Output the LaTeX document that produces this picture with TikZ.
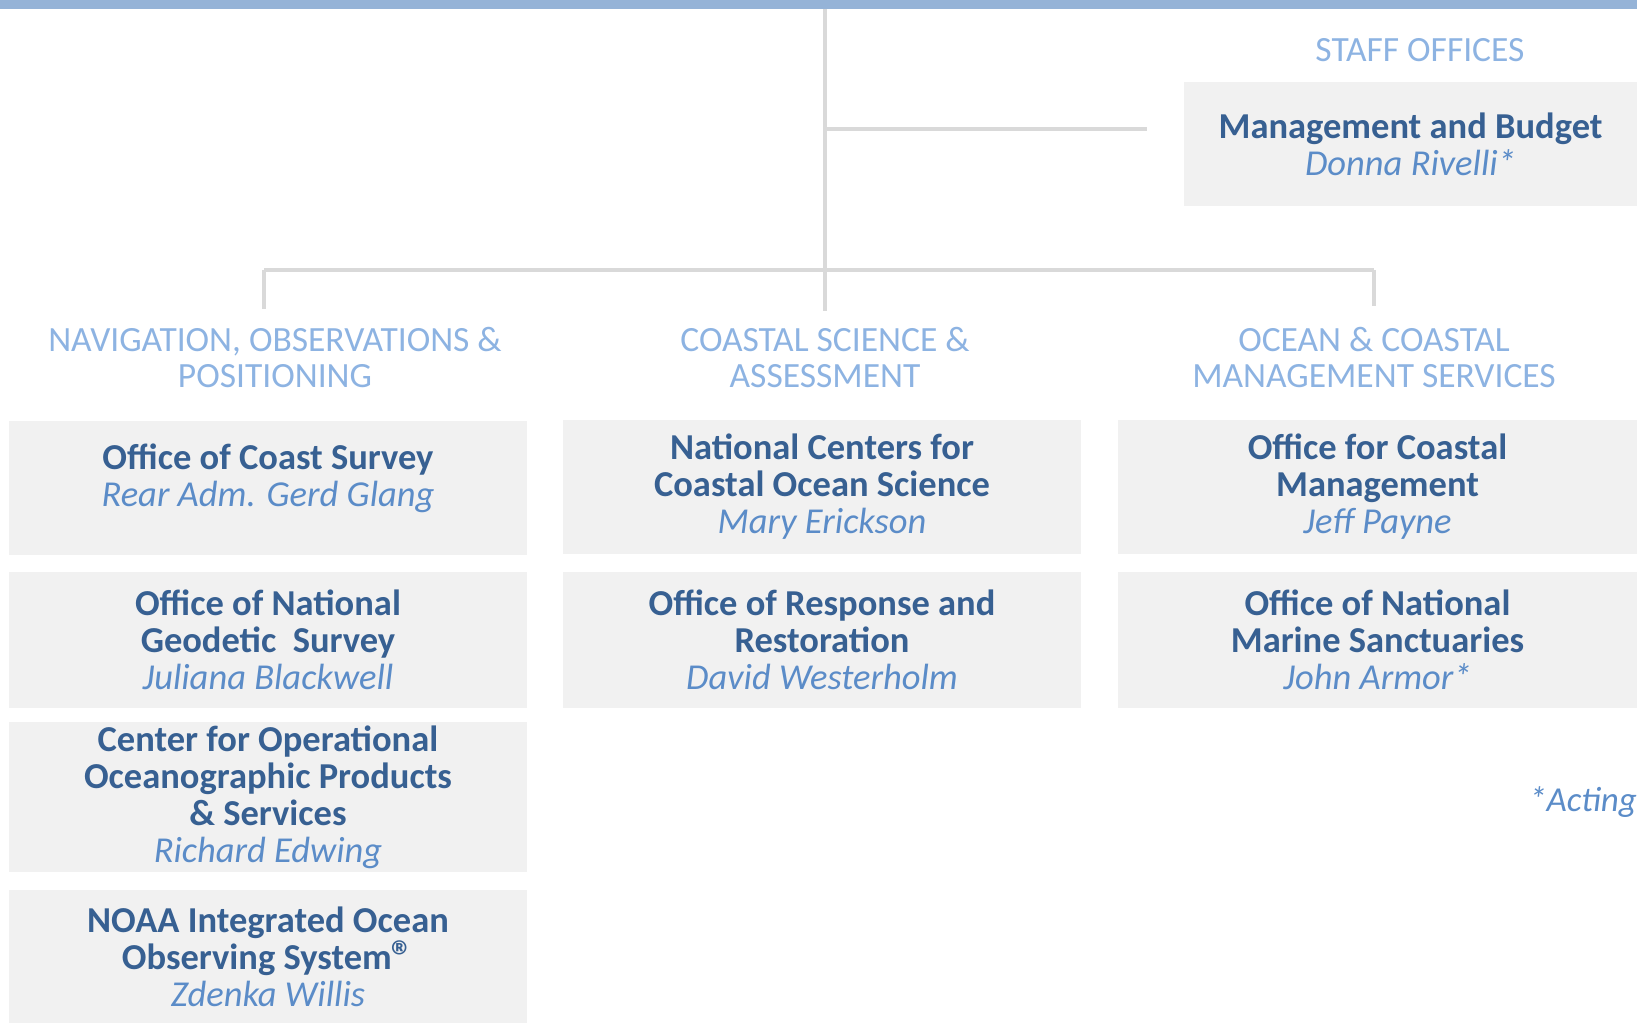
\documentclass[tikz,border=0pt]{standalone}
\usepackage{fontspec}
\setmainfont{Carlito}
\usetikzlibrary{positioning}
\definecolor{barblue}{HTML}{95B3D7}
\definecolor{linegray}{HTML}{D9D9D9}
\definecolor{boxgray}{HTML}{F1F1F1}
\definecolor{titleblue}{HTML}{376092}
\definecolor{nameblue}{HTML}{5B8CC8}
\definecolor{headblue}{HTML}{8DB3E2}
\newcommand{\who}[1]{{\mdseries\itshape\color{nameblue}#1}}
\newcommand{\regmark}{\raisebox{-0.05em}{\fontsize{44}{37}\selectfont ®}}
\tikzset{
	office/.style={fill=boxgray,inner sep=0pt,align=center,text=titleblue,
		font=\fontsize{36.5}{37}\selectfont\bfseries},
	heading/.style={inner sep=0pt,align=center,text=headblue,
		font=\fontsize{35.5}{36}\selectfont},
	link/.style={draw=linegray,line width=4pt}
}
\begin{document}
\begin{tikzpicture}[x=1pt,y=-1pt]
	\def\W{518} % width of an office box
	\useasboundingbox (0,0) rectangle (1637,1023);
	\fill[barblue] (0,0) rectangle (1637,9);
	% staff offices
	\node[heading] (staffhead) at (1420,50) {STAFF OFFICES};
	\node[office,minimum width=453pt,minimum height=124pt] (budget) at (1410.5,144)
	{Management and Budget\\\who{Donna Rivelli*}};
	% line offices, three columns
	\node[heading] (navhead) at (275,357) {NAVIGATION, OBSERVATIONS \&\\POSITIONING};
	\node[heading] (csahead) at (825,357) {COASTAL SCIENCE \&\\ASSESSMENT};
	\node[heading] (ocmhead) at (1374,357) {OCEAN \& COASTAL\\MANAGEMENT SERVICES};
	\begin{scope}[every node/.append style={office,minimum width=\W pt}]
	\node[minimum height=134pt] (coast) at (268,488)
	{Office of Coast Survey\\\who{Rear Adm. Gerd Glang}\\[-12pt]\mbox{}};
	\node[minimum height=136pt] (geodetic) at (268,640)
	{Office of National\\Geodetic\ \ Survey\\\who{Juliana Blackwell}};
	\node[minimum height=150pt] (coops) at (268,797)
	{Center for Operational\\Oceanographic Products\\\& Services\\\who{Richard Edwing}};
	\node[minimum height=133pt] (ioos) at (268,956.5)
	{NOAA Integrated Ocean\\Observing System\smash{\regmark}\\\who{Zdenka Willis}};
	\node[minimum height=134pt] (nccos) at (822,487)
	{National Centers for\\Coastal Ocean Science\\\who{Mary Erickson}};
	\node[minimum height=136pt] (response) at (822,640)
	{Office of Response and\\Restoration\\\who{David Westerholm}};
	\node[minimum width=519pt,minimum height=134pt] (ocm) at (1377.5,487)
	{Office for Coastal\\Management\\\who{Jeff Payne}};
	\node[minimum width=519pt,minimum height=136pt] (sanctuaries) at (1377.5,640)
	{Office of National\\Marine Sanctuaries\\\who{John Armor*}};
	\end{scope}
	\node[anchor=east,inner sep=0pt,font=\fontsize{35}{37}\selectfont\itshape,text=nameblue]
	(acting) at (1637,802) {*Acting};
	% connectors
	\coordinate (top) at (825,9);
	\coordinate (hub) at (825,270);
	\coordinate (trunk) at (825,311);
	\coordinate (staffend) at (1147,129);
	\coordinate (navdrop) at (264,309);
	\coordinate (ocmdrop) at (1374,306);
	\draw[link] (top) -- (trunk);
	\draw[link] (top |- staffend) -- (staffend);
	\draw[link] (navdrop |- hub) -- (ocmdrop |- hub);
	\draw[link] (navdrop |- hub) -- (navdrop);
	\draw[link] (ocmdrop |- hub) -- (ocmdrop);
\end{tikzpicture}
\end{document}
